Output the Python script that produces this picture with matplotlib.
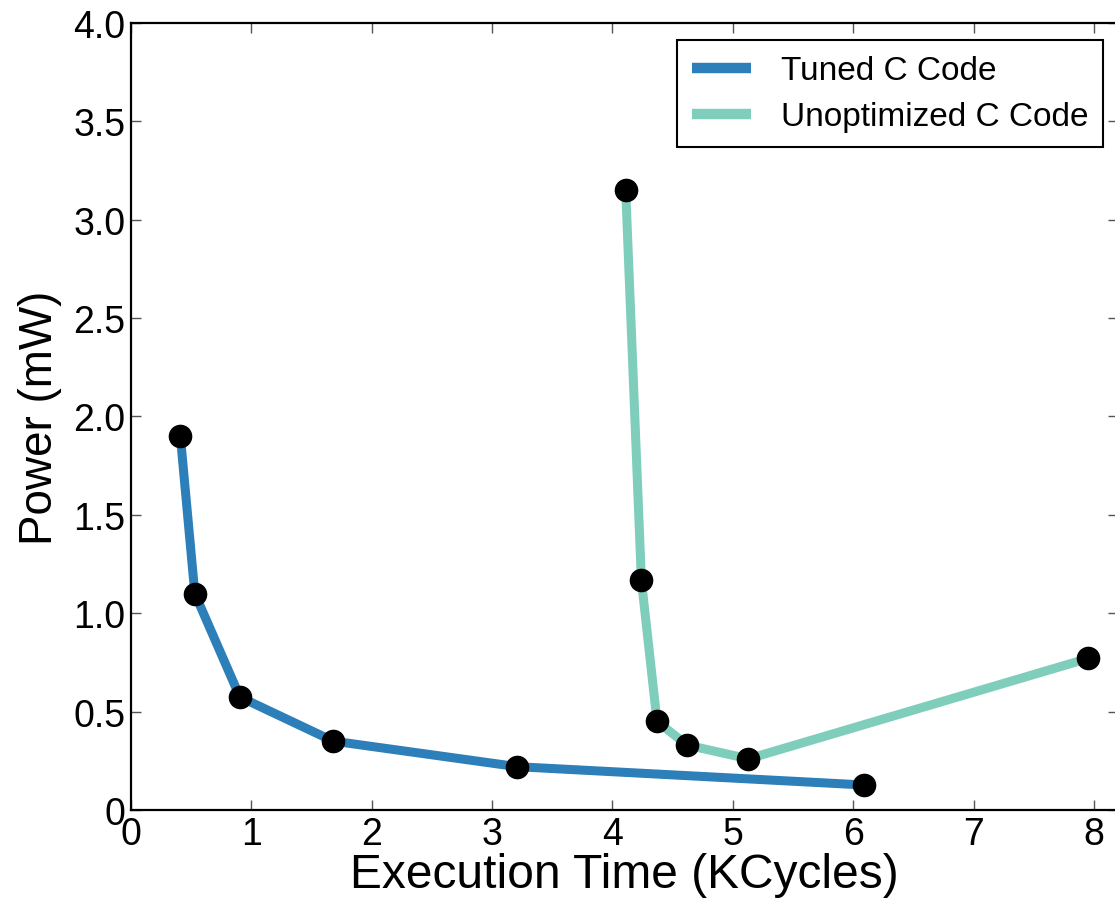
#!/usr/bin/env python
# coding: utf-8

import matplotlib
matplotlib.use("Agg")
import matplotlib.pyplot as plt

# Tuned C code: execution time (KCycles) vs power (mW)
tuned_time = [0.41, 0.53, 0.905, 1.68, 3.21, 6.09]
tuned_power = [1.90, 1.10, 0.574, 0.35, 0.22, 0.127]

# Unoptimized C code
unopt_time = [4.11, 4.24, 4.37, 4.62, 5.13, 7.95]
unopt_power = [3.15, 1.17, 0.45, 0.33, 0.26, 0.77]

xticks = [0, 1, 2, 3, 4, 5, 6, 7, 8]
xtick_labels = ['0', '1', '2', '3', '4', '5', '6', '7', '8']
yticks = [0, 0.5, 1.0, 1.5, 2.0, 2.5, 3.0, 3.5, 4.0]
ytick_labels = ['0', '0.5', '1.0', '1.5', '2.0', '2.5', '3.0', '3.5', '4.0']

def plot():
  plt.rcParams['font.family'] = ['Liberation Sans', 'DejaVu Sans']

  fig = plt.figure(figsize=(11.15, 9.04), dpi=100)
  ax = fig.add_axes([0.1175, 0.1029, 0.8852, 0.8706])

  ax.plot(tuned_time, tuned_power, color='#2c7fb8', lw=6.5,
          solid_capstyle='butt', label='Tuned C Code', zorder=2)
  ax.plot(unopt_time, unopt_power, color='#7fcdbb', lw=6.5,
          solid_capstyle='butt', label='Unoptimized C Code', zorder=2)
  ax.plot(tuned_time, tuned_power, 'o', color='black', ms=16, zorder=3)
  ax.plot(unopt_time, unopt_power, 'o', color='black', ms=16, zorder=3)

  ax.set_xlim(0, 8.2)
  ax.set_ylim(0, 4.0)
  ax.set_xticks(xticks)
  ax.set_xticklabels(xtick_labels)
  ax.set_yticks(yticks)
  ax.set_yticklabels(ytick_labels)
  ax.tick_params(direction='in', length=7, width=1, color='#555555',
                 labelsize=27, top=True, right=True, pad=4)

  for s in ax.spines.values():
    s.set_linewidth(1.6)

  ax.set_xlabel('Execution Time (KCycles)', fontsize=34.5, labelpad=0)
  ax.set_ylabel('Power (mW)', fontsize=33, labelpad=8)

  leg = ax.legend(loc='upper right', fontsize=24, handlelength=1.75,
                  fancybox=False, framealpha=1, edgecolor='black',
                  borderpad=0.45, handletextpad=0.9, labelspacing=0.45,
                  borderaxespad=0, bbox_to_anchor=(0.985, 0.978))
  leg.get_frame().set_linewidth(1.5)
  for h in leg.get_lines():
    h.set_linewidth(7.5)

  plt.savefig('out.png', dpi=100)

if __name__ == '__main__':
  plot()
